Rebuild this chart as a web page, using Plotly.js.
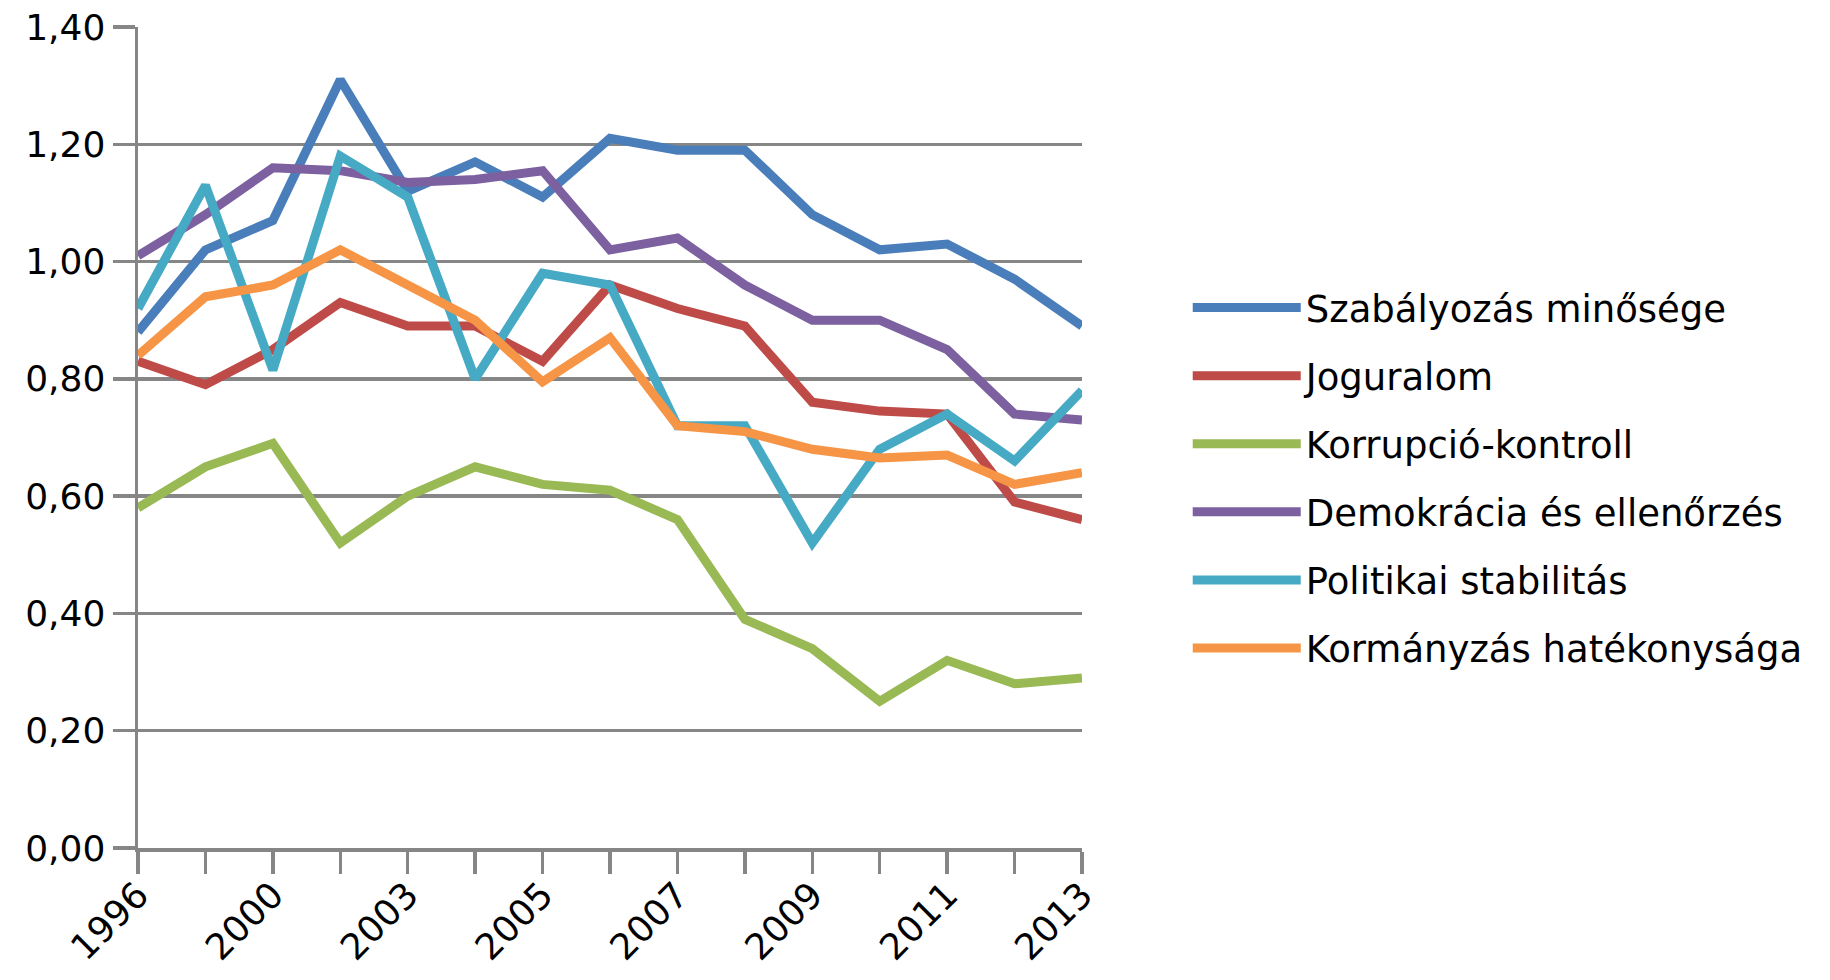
<!DOCTYPE html>
<html>
<head>
<meta charset="utf-8">
<script src="https://cdn.plot.ly/plotly-3.0.1.min.js"></script>
<style>html,body{margin:0;padding:0;background:#fff;}#chart{width:1830px;height:980px;}</style>
</head>
<body>
<div id="chart"></div>
<script>
const years = ['1996','1998','2000','2002','2003','2004','2005','2006','2007','2008','2009','2010','2011','2012','2013'];
const tickLabels = ['1996','','2000','','2003','','2005','','2007','','2009','','2011','','2013'];
const yTickVals = [0, 0.2, 0.4, 0.6, 0.8, 1.0, 1.2, 1.4];
const yTickText = ['0,00','0,20','0,40','0,60','0,80','1,00','1,20','1,40'];

const seriesNames = ['Szabályozás minősége','Joguralom','Korrupció-kontroll','Demokrácia és ellenőrzés','Politikai stabilitás','Kormányzás hatékonysága'];
const szabalyozas = [0.88, 1.02, 1.07, 1.31, 1.12, 1.17, 1.11, 1.21, 1.19, 1.19, 1.08, 1.02, 1.03, 0.97, 0.89];
const joguralom   = [0.83, 0.79, 0.85, 0.93, 0.89, 0.89, 0.83, 0.96, 0.92, 0.89, 0.76, 0.745, 0.74, 0.59, 0.56];
const korrupcio   = [0.58, 0.65, 0.69, 0.52, 0.60, 0.65, 0.62, 0.61, 0.56, 0.39, 0.34, 0.25, 0.32, 0.28, 0.29];
const demokracia  = [1.01, 1.08, 1.16, 1.155, 1.135, 1.14, 1.155, 1.02, 1.04, 0.96, 0.90, 0.90, 0.85, 0.74, 0.73];
const politikai   = [0.92, 1.13, 0.815, 1.18, 1.11, 0.80, 0.98, 0.96, 0.72, 0.72, 0.52, 0.68, 0.74, 0.66, 0.78];
const kormanyzas  = [0.84, 0.94, 0.96, 1.02, 0.96, 0.90, 0.795, 0.87, 0.72, 0.71, 0.68, 0.665, 0.67, 0.62, 0.64];
const seriesValues = [szabalyozas, joguralom, korrupcio, demokracia, politikai, kormanyzas];
const seriesColors = ['#4A7EBB','#BE4B48','#98B954','#7D60A0','#46AAC5','#F69546'];

const FONT = '"DejaVu Sans", "Noto Sans", sans-serif';

const traces = seriesNames.map((name, i) => ({
  type: 'scatter',
  mode: 'lines',
  name: name,
  x: years,
  y: seriesValues[i],
  legendgroup: 'g' + i,
  line: {color: seriesColors[i], width: 9, shape: 'linear'},
  hoverinfo: 'x+y+name'
}));

const layout = {
  width: 1830,
  height: 980,
  paper_bgcolor: '#ffffff',
  plot_bgcolor: '#ffffff',
  margin: {l: 138, r: 748, t: 27, b: 132, pad: 0},
  font: {family: FONT, size: 36, color: '#000000'},
  showlegend: true,
  legend: {
    x: 1.112, xanchor: 'left',
    y: 0.4507, yanchor: 'middle',
    font: {family: FONT, size: 37, color: '#000000'},
    tracegroupgap: 17,
    itemwidth: 108,
    bgcolor: 'rgba(0,0,0,0)'
  },
  xaxis: {
    type: 'category',
    range: [0, 14],
    tickmode: 'array',
    tickvals: years,
    ticktext: tickLabels,
    tickangle: -45,
    ticks: 'outside',
    ticklen: 22,
    tickwidth: 3.5,
    tickcolor: '#868686',
    ticklabelstandoff: -14,
    showline: true,
    linecolor: '#868686',
    linewidth: 3.5,
    showgrid: false,
    zeroline: false,
    tickfont: {family: FONT, size: 36, color: '#000000'},
    fixedrange: true
  },
  yaxis: {
    range: [0, 1.4],
    tickmode: 'array',
    tickvals: yTickVals,
    ticktext: yTickText,
    ticks: 'outside',
    ticklen: 22,
    tickwidth: 3.5,
    tickcolor: '#868686',
    showline: true,
    linecolor: '#868686',
    linewidth: 3.5,
    showgrid: true,
    gridcolor: '#868686',
    gridwidth: 3.5,
    zeroline: false,
    tickfont: {family: FONT, size: 36, color: '#000000'},
    fixedrange: true
  }
};

Plotly.newPlot('chart', traces, layout, {displayModeBar: false, staticPlot: true});
</script>
</body>
</html>
